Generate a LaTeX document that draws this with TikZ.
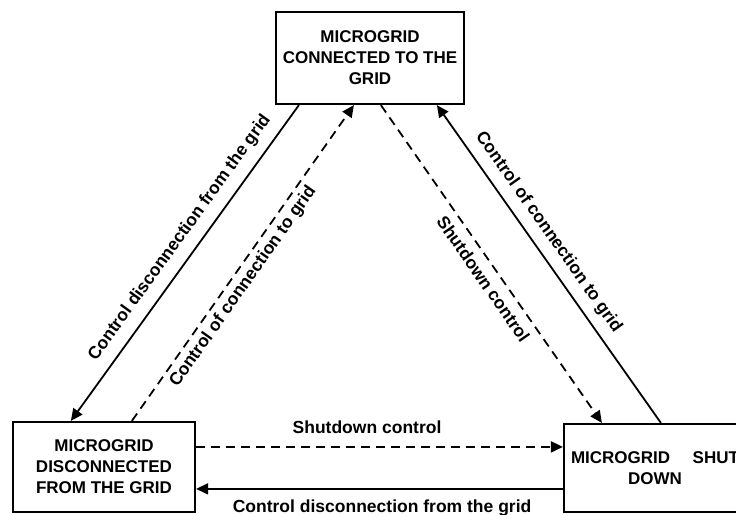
\documentclass[tikz,border=0pt]{standalone}
\usepackage{fontspec}
\setmainfont{Liberation Sans}
\usetikzlibrary{arrows.meta,calc}
\begin{document}
\begin{tikzpicture}[x=1pt,y=-1pt,
  statebox/.style={draw,line width=2.2pt,rectangle,align=center,
    font=\bfseries\fontsize{17}{21}\selectfont,inner sep=0pt},
  link/.style={line width=1.8pt,-{Triangle[length=12pt,width=11pt]}},
  dashlink/.style={link,dash pattern=on 9pt off 6pt},
  lbl/.style={font=\bfseries\fontsize{17.5}{20}\selectfont,inner sep=0pt,
    text height=12.5pt,text depth=3.5pt}]
\clip (0,0) rectangle (736,514);

% states
\node[statebox,minimum width=188pt,minimum height=92pt] (grid) at (370,58)
  {MICROGRID\\CONNECTED TO THE\\GRID};
\node[statebox,minimum width=182pt,minimum height=90pt] (islanded) at (104,467)
  {MICROGRID\\DISCONNECTED\\FROM THE GRID};
\node[statebox,minimum width=182pt,minimum height=88pt,text width=168pt] (shutdown) at (655,468)
  {MICROGRID\hfill SHUT\\DOWN};

% grid <-> islanded
\draw[link] ($(grid.south west)+(24,0)$)
  -- node[lbl,sloped,above=10pt,pos=0.455] {Control disconnection from the grid}
  ($(islanded.north west)+(59,0)$);
\draw[dashlink] ($(islanded.north west)+(120,0)$)
  -- node[lbl,sloped,below=5pt,pos=0.45] {Control of connection to grid}
  ($(grid.south west)+(79,0)$);

% grid <-> shutdown
\draw[dashlink] ($(grid.south west)+(106,0)$)
  -- node[lbl,sloped,below=8pt,pos=0.52] {Shutdown control}
  ($(shutdown.north west)+(39,0)$);
\draw[link] ($(shutdown.north west)+(98,0)$)
  -- node[lbl,sloped,above=9pt,pos=0.567] {Control of connection to grid}
  ($(grid.south west)+(162,0)$);

% islanded <-> shutdown
\draw[dashlink] ($(islanded.north east)+(0,26)$)
  -- node[lbl,above=9.5pt,pos=0.466] {Shutdown control}
  ($(shutdown.north west)+(0,24)$);
\draw[link] ($(shutdown.north west)+(0,66)$)
  -- node[lbl,below=10pt,pos=0.493] {Control disconnection from the grid}
  ($(islanded.north east)+(0,68)$);
\end{tikzpicture}
\end{document}
